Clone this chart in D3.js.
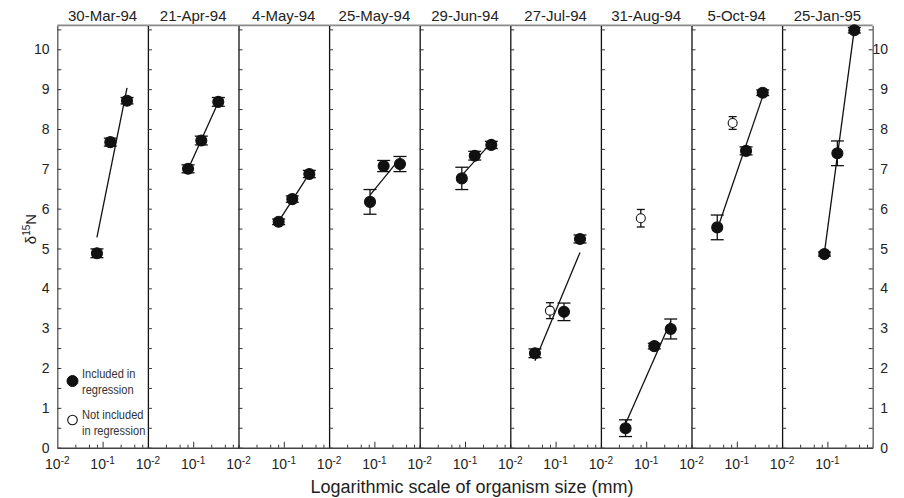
<!DOCTYPE html>
<html>
<head>
<meta charset="utf-8">
<script src="https://cdn.jsdelivr.net/npm/d3@7"></script>
<style>
  body { margin: 0; background: #fff; }
  svg text { font-family: "Liberation Sans", Arial, Helvetica, sans-serif; fill: #222; }
</style>
</head>
<body>
<div id="container"></div>
<script>
// one entry per sampling date (panel)
var dates = ['30-Mar-94', '21-Apr-94', '4-May-94', '25-May-94', '29-Jun-94',
             '27-Jul-94', '31-Aug-94', '5-Oct-94', '25-Jan-95'];

// organism size (mm), d15N, error and whether in regression, per panel
var sizeMm = [
  [0.075, 0.148, 0.346],
  [0.077, 0.151, 0.358],
  [0.077, 0.154, 0.366],
  [0.080, 0.160, 0.367],
  [0.085, 0.164, 0.381],
  [0.035, 0.075, 0.153, 0.346],
  [0.035, 0.076, 0.151, 0.348],
  [0.037, 0.081, 0.160, 0.373],
  [0.086, 0.166, 0.393]
];
var d15N = [
  [4.88, 7.67, 8.71],
  [7.00, 7.71, 8.68],
  [5.67, 6.24, 6.87],
  [6.17, 7.07, 7.12],
  [6.76, 7.33, 7.60],
  [2.37, 3.44, 3.41, 5.24],
  [0.49, 5.76, 2.55, 2.98],
  [5.53, 8.15, 7.45, 8.91],
  [4.86, 7.39, 10.48]
];
var d15NErr = [
  [0.11, 0.10, 0.08],
  [0.10, 0.11, 0.11],
  [0.07, 0.08, 0.09],
  [0.31, 0.14, 0.19],
  [0.28, 0.11, 0.09],
  [0.11, 0.20, 0.22, 0.10],
  [0.21, 0.22, 0.07, 0.25],
  [0.31, 0.16, 0.10, 0.07],
  [0.05, 0.31, 0.07]
];
var inRegression = [
  [1, 1, 1],
  [1, 1, 1],
  [1, 1, 1],
  [1, 1, 1],
  [1, 1, 1],
  [1, 0, 1, 1],
  [1, 0, 1, 1],
  [1, 0, 1, 1],
  [1, 1, 1]
];

var yMajor = [0, 1, 2, 3, 4, 5, 6, 7, 8, 9, 10];
var yMinor = [0.5, 1.5, 2.5, 3.5, 4.5, 5.5, 6.5, 7.5, 8.5, 9.5, 10.5];
var xMinor = [0.025, 0.05, 0.075, 0.25, 0.5, 0.75, 1];
var xMajor = [0.1];
var xLabels = [{v: 0.01, e: '-2'}, {v: 0.1, e: '-1'}];

var width = 904, height = 498;
var left0 = 57.3, pw = 90.6, yTop = 25.4, yBot = 447.7;
var right0 = left0 + pw * dates.length;

var svg = d3.select('#container').append('svg')
  .attr('width', width).attr('height', height);

var y = d3.scaleLinear().domain([0, 10.6]).range([yBot, yTop]);

// least squares on log10(size)
function regression(xs, ys) {
  var lx = xs.map(function(v) { return Math.log10(v); });
  var mx = d3.mean(lx), my = d3.mean(ys);
  var sxy = d3.sum(lx, function(v, i) { return (v - mx) * (ys[i] - my); });
  var sxx = d3.sum(lx, function(v) { return (v - mx) * (v - mx); });
  var b = sxy / sxx;
  return function(v) { return my + b * (Math.log10(v) - mx); };
}

dates.forEach(function(date, p) {
  var x0 = left0 + p * pw;
  var x = d3.scaleLog().domain([0.01, 1]).range([x0, x0 + pw]);
  var g = svg.append('g').attr('class', 'panel');

  // title + top rule
  g.append('text')
    .attr('x', x0 + pw / 2).attr('y', 20.7)
    .attr('text-anchor', 'middle')
    .style('font-size', '15px')
    .text(date);
  g.append('line')
    .attr('x1', x0).attr('x2', x0 + pw)
    .attr('y1', yTop).attr('y2', yTop)
    .attr('stroke', '#8a8a8a').attr('stroke-width', 1.6);

  // y axis on the left of each panel, ticks inward
  var ya = g.append('g').attr('transform', 'translate(' + x0 + ',0)')
    .call(d3.axisRight(y).tickValues(yMajor.concat(yMinor)).tickSize(4).tickSizeOuter(0).tickFormat(''));
  ya.select('.domain').attr('stroke', p === 0 ? '#555' : '#111').attr('stroke-width', 1.3);
  ya.selectAll('.tick line').attr('stroke', '#333');

  // x axis, ticks inward
  var xa = g.append('g').attr('transform', 'translate(0,' + yBot + ')')
    .call(d3.axisBottom(x).tickValues(xMinor).tickSize(-3).tickSizeOuter(0).tickFormat(''));
  xa.select('.domain').attr('stroke', '#444').attr('stroke-width', 1.5);
  xa.selectAll('.tick line').attr('stroke', '#333');
  var xm = g.append('g').attr('transform', 'translate(0,' + yBot + ')')
    .call(d3.axisBottom(x).tickValues(xMajor).tickSize(-6).tickSizeOuter(0).tickFormat(''));
  xm.select('.domain').remove();
  xm.selectAll('.tick line').attr('stroke', '#333');

  xLabels.forEach(function(l) {
    var t = g.append('text')
      .attr('x', x(l.v)).attr('y', 469)
      .attr('text-anchor', 'middle')
      .style('font-size', '14px');
    t.append('tspan').text('10');
    t.append('tspan').attr('dy', '-5').style('font-size', '10px').text(l.e);
  });

  // regression line through included points
  var xs = sizeMm[p].filter(function(v, i) { return inRegression[p][i]; });
  var ys = d15N[p].filter(function(v, i) { return inRegression[p][i]; });
  var f = regression(xs, ys);
  var ext = d3.extent(xs);
  g.append('line')
    .attr('x1', x(ext[0])).attr('y1', y(f(ext[0])))
    .attr('x2', x(ext[1])).attr('y2', y(f(ext[1])))
    .attr('stroke', '#111').attr('stroke-width', 1.3);

  var pts = sizeMm[p].map(function(s, i) {
    return {s: s, n: d15N[p][i], e: d15NErr[p][i], inc: inRegression[p][i]};
  });

  var bars = g.selectAll('g.err').data(pts).enter().append('g').attr('class', 'err')
    .attr('stroke', '#111').attr('stroke-width', 1.3);
  bars.append('line')
    .attr('x1', function(d) { return x(d.s); }).attr('x2', function(d) { return x(d.s); })
    .attr('y1', function(d) { return y(d.n - d.e); }).attr('y2', function(d) { return y(d.n + d.e); });
  [-1, 1].forEach(function(sg) {
    bars.append('line')
      .attr('x1', function(d) { return x(d.s) - (d.inc ? 6.5 : 4); })
      .attr('x2', function(d) { return x(d.s) + (d.inc ? 6.5 : 4); })
      .attr('y1', function(d) { return y(d.n + sg * d.e); })
      .attr('y2', function(d) { return y(d.n + sg * d.e); });
  });

  g.selectAll('circle.pt').data(pts).enter().append('circle')
    .attr('class', 'pt')
    .attr('cx', function(d) { return x(d.s); })
    .attr('cy', function(d) { return y(d.n); })
    .attr('r', function(d) { return d.inc ? 5.5 : 4.5; })
    .attr('fill', function(d) { return d.inc ? '#111' : '#fff'; })
    .attr('stroke', '#111').attr('stroke-width', 1.1);
});

// y tick labels left and right
svg.selectAll('text.yl').data(yMajor).enter().append('text')
  .attr('class', 'yl')
  .attr('x', 49.5).attr('y', function(d) { return y(d); })
  .attr('dy', '0.36em').attr('text-anchor', 'end')
  .style('font-size', '14px')
  .text(function(d) { return d; });

var ra = svg.append('g').attr('transform', 'translate(' + right0 + ',0)')
  .call(d3.axisLeft(y).tickValues(yMajor.concat(yMinor)).tickSize(4).tickSizeOuter(0).tickFormat(''));
ra.select('.domain').attr('stroke', '#777').attr('stroke-width', 1.6);
ra.selectAll('.tick line').attr('stroke', '#333');

svg.selectAll('text.yr').data(yMajor).enter().append('text')
  .attr('class', 'yr')
  .attr('x', 888).attr('y', function(d) { return y(d); })
  .attr('dy', '0.36em').attr('text-anchor', 'end')
  .style('font-size', '14px')
  .text(function(d) { return d; });

// axis titles
svg.append('text')
  .attr('x', 472).attr('y', 493)
  .attr('text-anchor', 'middle')
  .style('font-size', '18px')
  .text('Logarithmic scale of organism size (mm)');

var yt = svg.append('text')
  .attr('transform', 'translate(36,229) rotate(-90)')
  .attr('text-anchor', 'middle')
  .style('font-size', '15px');
yt.append('tspan').text('δ');
yt.append('tspan').attr('dy', '-6').style('font-size', '10px').text('15');
yt.append('tspan').attr('dy', '6').text('N');

// legend (narrow type, squeezed horizontally)
var legend = svg.append('g').attr('class', 'legend');
legend.append('circle').attr('cx', 72.5).attr('cy', 381).attr('r', 5.5)
  .attr('fill', '#111').attr('stroke', '#111');
legend.append('circle').attr('cx', 72.5).attr('cy', 420).attr('r', 4.8)
  .attr('fill', '#fff').attr('stroke', '#111').attr('stroke-width', 1.1);
var legendText = [['Included in', 'regression'], ['Not included', 'in regression']];
legendText.forEach(function(lines, k) {
  lines.forEach(function(s, j) {
    legend.append('text')
      .attr('transform', 'translate(82,' + (377.5 + k * 41 + j * 16) + ') scale(0.82,1)')
      .style('font-size', '13.5px')
      .style('fill', '#333')
      .text(s);
  });
});
</script>
</body>
</html>
